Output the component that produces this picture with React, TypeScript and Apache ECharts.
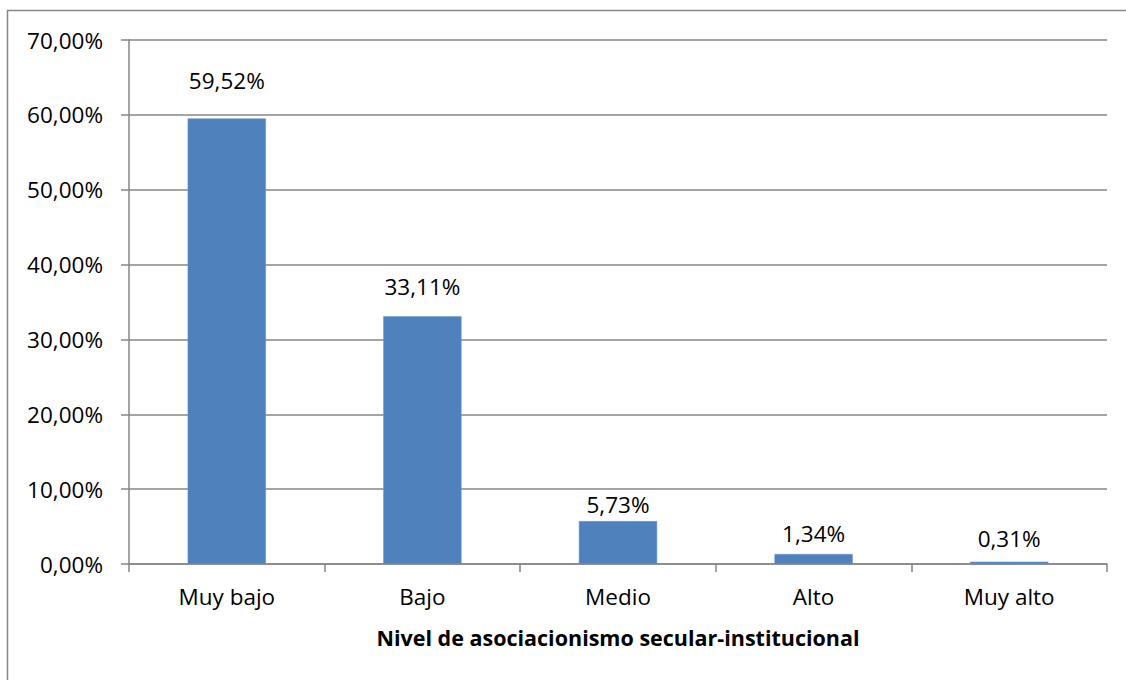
import React, { useEffect, useRef } from "react";
import * as echarts from "echarts";

const categories = ["Muy bajo", "Bajo", "Medio", "Alto", "Muy alto"];
const values = [59.52, 33.11, 5.73, 1.34, 0.31];
const yTicks = { min: 0, max: 70, interval: 10 };
const xAxisTitle = "Nivel de asociacionismo secular-institucional";

const labelDistances = [26, 18, 5, 9, 12];

const fmt = (v: number) => v.toFixed(2).replace(".", ",") + "%";

const FONT = "'Open Sans', 'Liberation Sans', sans-serif";
const GRAY = "#868686";

export default function App() {
  const ref = useRef<HTMLDivElement>(null);
  useEffect(() => {
    if (!ref.current) return;
    const chart = echarts.init(ref.current, undefined, { renderer: "svg" });
    chart.setOption({
      animation: false,
      backgroundColor: "#ffffff",
      textStyle: { fontFamily: FONT },
      graphic: [
        {
          type: "rect",
          shape: { x: 7.5, y: 10.5, width: 1300, height: 900 },
          style: { fill: "none", stroke: GRAY, lineWidth: 1.5 },
          silent: true,
        },
      ],
      grid: { left: 129, right: 19, top: 40, bottom: 116, containLabel: false },
      xAxis: {
        type: "category",
        data: categories,
        boundaryGap: true,
        axisLine: { lineStyle: { color: GRAY, width: 1.5 } },
        axisTick: { show: true, length: 8, lineStyle: { color: GRAY, width: 1.5 }, alignWithLabel: false },
        axisLabel: { color: "#000", fontSize: 22.5, fontFamily: FONT, margin: 21 },
        name: xAxisTitle,
        nameLocation: "middle",
        nameGap: 62,
        nameTextStyle: { color: "#000", fontSize: 21.5, fontWeight: "bold", fontFamily: FONT },
      },
      yAxis: {
        type: "value",
        min: yTicks.min,
        max: yTicks.max,
        interval: yTicks.interval,
        axisLine: { show: true, lineStyle: { color: GRAY, width: 1.5 } },
        axisTick: { show: true, length: 8, lineStyle: { color: GRAY, width: 1.5 } },
        splitLine: { show: true, lineStyle: { color: GRAY, width: 1.5 } },
        axisLabel: { color: "#000", fontSize: 22.5, fontFamily: FONT, margin: 26, formatter: (v: number) => fmt(v) },
      },
      series: [
        {
          type: "bar",
          data: values.map((v, i) => ({ value: v, label: { distance: labelDistances[i] } })),
          barWidth: "40%",
          itemStyle: { color: "#4f81bd", borderColor: "#6a96cb", borderWidth: 0.5 },
          label: {
            show: true,
            position: "top",
            color: "#000",
            fontSize: 22.5,
            fontFamily: FONT,
            formatter: (p: any) => fmt(p.value),
          },
        },
      ],
    });
    return () => chart.dispose();
  }, []);
  return (
    <div
      ref={ref}
      style={{ position: "absolute", left: 0, top: 0, width: 1126, height: 680 }}
    />
  );
}
